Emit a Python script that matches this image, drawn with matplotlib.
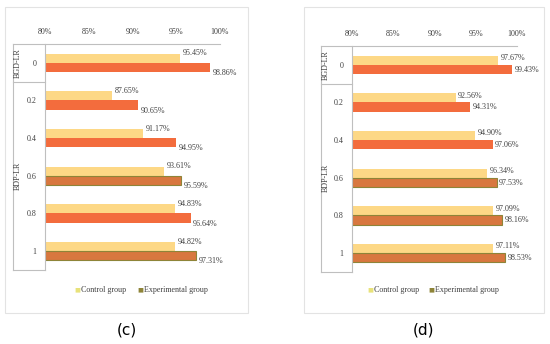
import numpy as np
import matplotlib
matplotlib.use("Agg")
import matplotlib.pyplot as plt
from matplotlib.patches import Rectangle
from matplotlib.lines import Line2D

# values
categories = ['0', '0.2', '0.4', '0.6', '0.8', '1']
groups = ['BGD-LR', 'BDP-LR']
ticks = [80, 85, 90, 95, 100]
tick_labels = ['80%', '85%', '90%', '95%', '100%']

control_c = [95.45, 87.65, 91.17, 93.61, 94.83, 94.82]
experimental_c = [98.86, 90.65, 94.95, 95.59, 96.64, 97.31]
control_d = [97.67, 92.56, 94.90, 96.34, 97.09, 97.11]
experimental_d = [99.43, 94.31, 97.06, 97.53, 98.16, 98.53]

YELLOW = '#FDD886'
ORANGE = '#F36C3D'
BROWN = '#D8773F'
OLIVE = '#8E8438'
GRID = '#BFBFBF'
TXT = '#404040'

plt.rcParams['font.family'] = ['Liberation Serif', 'DejaVu Serif']

W, H = 550, 344
fig = plt.figure(figsize=(5.5, 3.44), dpi=100)
fig.patch.set_facecolor('white')


def px(x, y):
    return x / W, 1 - y / H


def panel(box, ax_rect, ctrl, expv, shaded, offs, legend_x, caption, cap_x):
    # light frame around the panel
    bx0, by0, bx1, by1 = box
    fig.add_artist(Rectangle(px(bx0, by1), (bx1 - bx0) / W, (by1 - by0) / H,
                             transform=fig.transFigure, fill=False,
                             edgecolor='#E3E3E3', linewidth=0.8))
    left, right, top, bottom, cat_left = ax_rect
    ax = fig.add_axes([left / W, 1 - bottom / H, (right - left) / W, (bottom - top) / H])
    y = np.arange(len(categories))
    h = 0.24
    ax.barh(y - h / 2, np.array(ctrl) - 80, left=80, height=h, color=YELLOW)
    for i, v in enumerate(expv):
        if i in shaded:
            ax.barh(y[i] + h / 2, v - 80, left=80, height=h, color=BROWN,
                    edgecolor=OLIVE, linewidth=0.8)
        else:
            ax.barh(y[i] + h / 2, v - 80, left=80, height=h, color=ORANGE)
    for i in range(len(categories)):
        ax.text(ctrl[i] + 0.3, y[i] + offs[0], f'{ctrl[i]:.2f}%', fontsize=5.8,
                color=TXT, va='center', ha='left')
        ax.text(expv[i] + 0.3, y[i] + offs[1], f'{expv[i]:.2f}%', fontsize=5.8,
                color=TXT, va='center', ha='left')
    ax.set_xlim(80, 100)
    ax.set_ylim(len(categories) - 0.5, -0.5)
    ax.xaxis.tick_top()
    ax.set_xticks(ticks)
    ax.set_xticklabels(tick_labels, fontsize=5.8, color=TXT)
    ax.tick_params(axis='x', length=0, pad=6)
    ax.set_yticks(y)
    ax.set_yticklabels(categories, fontsize=5.8, color=TXT)
    ax.tick_params(axis='y', length=0, pad=6)
    for s in ['right', 'bottom', 'top']:
        ax.spines[s].set_visible(False)
    ax.spines['left'].set_color(GRID)
    ax.spines['left'].set_linewidth(0.8)
    ax.set_facecolor('none')

    # multi-level category axis lines
    sep = top + (bottom - top) / len(categories)
    for (xa, ya), (xb, yb) in [((cat_left, top), (right, top)),
                               ((cat_left, top), (cat_left, bottom)),
                               ((cat_left, sep), (left, sep)),
                               ((cat_left, bottom), (left, bottom))]:
        fig.add_artist(Line2D([xa / W, xb / W], [1 - ya / H, 1 - yb / H],
                              transform=fig.transFigure, color=GRID, linewidth=0.8))
    gx = (cat_left + 5) / W
    fig.text(gx, 1 - (top + sep) / 2 / H, groups[0], rotation=90, fontsize=5.8,
             color=TXT, ha='center', va='center')
    fig.text(gx, 1 - (sep + bottom) / 2 / H, groups[1], rotation=90, fontsize=5.8,
             color=TXT, ha='center', va='center')

    # legend
    lx1, lx2 = legend_x
    ly = 1 - 290 / H
    fig.text(lx1 / W, ly, '■', fontsize=4.5, color='#E8E27A', ha='center', va='center',
             family='DejaVu Sans')
    fig.text((lx1 + 4) / W, ly, 'Control group', fontsize=5.8, color=TXT, va='center')
    fig.text(lx2 / W, ly, '■', fontsize=4.5, color=OLIVE, ha='center', va='center',
             family='DejaVu Sans')
    fig.text((lx2 + 4) / W, ly, 'Experimental group', fontsize=5.8, color=TXT, va='center')

    fig.text(cap_x / W, 1 - 330 / H, caption, fontsize=11, color='black',
             ha='center', va='center', family='DejaVu Sans')


panel((5, 7, 248, 313), (45, 220, 44, 270, 13), control_c, experimental_c,
      [3, 5], (-0.25, 0.27), (77, 140), '(c)', 127)
panel((304, 7, 544, 313), (352, 517, 46, 272, 321), control_d, experimental_d,
      [3, 4, 5], (-0.18, 0.13), (370, 431), '(d)', 424)

fig.savefig('out.png', dpi=100)
